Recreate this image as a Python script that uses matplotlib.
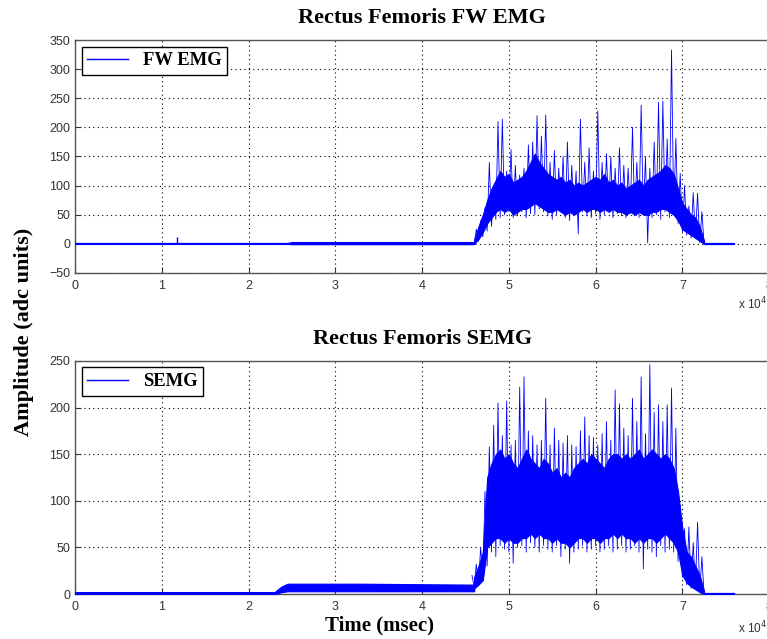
import numpy as np
import matplotlib
matplotlib.use("Agg")
import matplotlib.pyplot as plt

plt.rcParams['font.family'] = ['Liberation Sans', 'DejaVu Sans']

# time in units of 10^4 msec, amplitude in adc units

# quiet part before the burst (thin band) -> time, low, high
fw_pre_t = [0, 2.45, 2.5, 4.6]
fw_pre_lo = [0, 0, -0.5, -0.5]
fw_pre_hi = [1.5, 1.5, 3, 3]
fw_spike_t = [1.17]
fw_spike_v = [12]

semg_pre_t = [0, 2.3, 2.38, 2.45, 3.3, 4.6]
semg_pre_lo = [0, 0, 2, 3, 3, 3]
semg_pre_hi = [2, 2, 8, 11, 11, 10]

# quiet part after the burst (both channels)
tail_t = [7.25, 7.6]
tail_lo = [0, 0]
tail_hi = [1.5, 1.5]

# solid core of the burst, one sample every 0.05 from 4.6
fw_core_lo = [0, 8, 20, 35, 45, 55, 60, 55, 60, 50, 55, 60, 60, 65, 70, 65, 60, 55,
              55, 60, 55, 50, 55, 50, 55, 60, 55, 60, 60, 55, 60, 55, 60, 55, 55, 50,
              55, 50, 55, 50, 50, 55, 55, 60, 60, 55, 50, 40, 25, 20, 15, 10, 5, 0]
fw_core_hi = [6, 30, 50, 75, 95, 110, 125, 115, 120, 105, 110, 115, 125, 140, 155, 140, 130, 120,
              115, 110, 115, 105, 110, 100, 105, 100, 105, 110, 115, 110, 120, 105, 110, 100, 105, 95,
              100, 105, 110, 100, 110, 115, 120, 125, 135, 130, 120, 95, 70, 60, 50, 45, 30, 5]

semg_core_lo = [6, 10, 15, 50, 55, 60, 60, 55, 60, 55, 55, 60, 60, 65, 60, 65, 60, 60,
                55, 60, 55, 55, 50, 55, 60, 60, 55, 60, 60, 55, 60, 60, 65, 60, 65, 60,
                60, 55, 60, 55, 60, 60, 55, 60, 65, 60, 55, 45, 20, 12, 8, 5, 2, 0]
semg_core_hi = [18, 30, 45, 125, 140, 150, 155, 145, 150, 140, 135, 145, 155, 145, 140, 135, 145, 140,
                130, 135, 125, 130, 125, 135, 140, 145, 140, 150, 145, 140, 135, 145, 150, 150, 145, 150,
                145, 150, 155, 145, 150, 155, 150, 145, 150, 145, 135, 110, 70, 45, 40, 30, 20, 3]

# peak / trough sequence of the burst, one sample every 0.025 from 4.575
fw_burst = [2, 0, 25, 5,   40, 12, 62, 22,   140, 30, 95, 42,   210, 45, 214, 50,
            125, 55, 162, 45,   135, 48, 118, 55,   130, 45, 170, 52,   175, 50, 220, 60,
            185, 55, 221, 48,   140, 42, 160, 50,   130, 55, 150, 45,   175, 40, 135, 52,
            125, 17, 214, 55,   140, 48, 165, 45,   125, 52, 228, 42,   140, 50, 155, 55,
            150, 45, 130, 52,   165, 48, 135, 45,   130, 52, 200, 48,   140, 45, 238, 52,
            150, 2, 130, 45,   175, 50, 243, 42,   245, 55, 180, 45,   333, 50, 181, 35,
            121, 20, 100, 15,   65, 10, 88, 12,   87, 2, 55, 0]

semg_burst = [20, 8, 32, 10,   50, 15, 110, 30,   158, 45, 181, 40,   205, 52, 170, 48,
              207, 45, 160, 33,   165, 50, 222, 52,   233, 45, 175, 55,   170, 50, 160, 45,
              165, 52, 210, 48,   160, 45, 178, 52,   165, 40, 162, 48,   170, 33, 160, 45,
              158, 48, 175, 52,   190, 45, 170, 48,   168, 52, 160, 45,   172, 48, 185, 52,
              165, 45, 219, 48,   204, 52, 178, 45,   170, 48, 210, 52,   185, 45, 233, 27,
              172, 48, 246, 45,   195, 40, 203, 52,   185, 45, 203, 48,   221, 45, 178, 35,
              95, 18, 70, 10,   72, 6, 55, 6,   77, 2, 40, 0]

core_t0, core_dt = 4.6, 0.05
burst_t0, burst_dt = 4.575, 0.025

serif = 'Liberation Serif'
blue = '#0000ff'

fig = plt.figure(figsize=(7.67, 6.39), dpi=100)
ax1 = fig.add_axes([0.0978, 0.5728, 0.905, 0.3646])
ax2 = fig.add_axes([0.0978, 0.0704, 0.905, 0.3647])


def draw(ax, pt, plo, phi, clo, chi, burst, label, title, ylim, yticks):
    ct = core_t0 + core_dt * np.arange(len(clo))
    bt = burst_t0 + burst_dt * np.arange(len(burst))
    ax.fill_between(pt, plo, phi, color=blue, lw=0.9, zorder=3)
    ax.fill_between(tail_t, tail_lo, tail_hi, color=blue, lw=0.9, zorder=3)
    ax.fill_between(ct, clo, chi, color=blue, lw=0.8, zorder=3)
    ax.plot(bt, burst, color=blue, lw=0.6, label=label, zorder=3)
    ax.set_xlim(0, 8)
    ax.set_ylim(*ylim)
    ax.set_xticks(range(9))
    ax.set_yticks(yticks)
    ax.grid(True, color='k', linestyle=(0, (1, 3)), lw=0.8)
    ax.set_axisbelow(True)
    ax.tick_params(direction='in', length=4, labelsize=9, colors='#333333')
    ax.tick_params(axis='x', pad=5)
    for s in ax.spines.values():
        s.set_color('#555555')
        s.set_linewidth(1.0)
    ax.set_title(title, fontfamily=serif, fontweight='bold', fontsize=16, pad=12)
    leg = ax.legend(loc='upper left', fancybox=False, edgecolor='k', framealpha=1,
                    prop={'family': serif, 'weight': 'bold', 'size': 13.4},
                    handlelength=2.2, borderaxespad=0.35, borderpad=0.3)
    leg.get_frame().set_linewidth(1.0)
    for ln in leg.get_lines():
        ln.set_linewidth(1.0)


draw(ax1, fw_pre_t, fw_pre_lo, fw_pre_hi, fw_core_lo, fw_core_hi, fw_burst, 'FW EMG',
     'Rectus Femoris FW EMG', (-50, 350), range(-50, 351, 50))
ax1.vlines(fw_spike_t, 0, fw_spike_v, color=blue, lw=1.0, zorder=3)

draw(ax2, semg_pre_t, semg_pre_lo, semg_pre_hi, semg_core_lo, semg_core_hi, semg_burst,
     'SEMG', 'Rectus Femoris SEMG', (0, 250), range(0, 251, 50))

fig.text(738 / 767, 1 - 304 / 639, r'x 10$^4$', fontsize=8.5, color='#333333', va='center')
fig.text(738 / 767, 1 - 628 / 639, r'x 10$^4$', fontsize=8.5, color='#333333', va='center')
fig.text(0.031, 1 - 332 / 639, 'Amplitude (adc units)', rotation=90, ha='center', va='center',
         fontfamily=serif, fontweight='bold', fontsize=16)
fig.text(0.0978 + 0.905 / 2 - 0.055, 1 - 625 / 639, 'Time (msec)', ha='center', va='center',
         fontfamily=serif, fontweight='bold', fontsize=15)

fig.savefig('out.png', dpi=100)
